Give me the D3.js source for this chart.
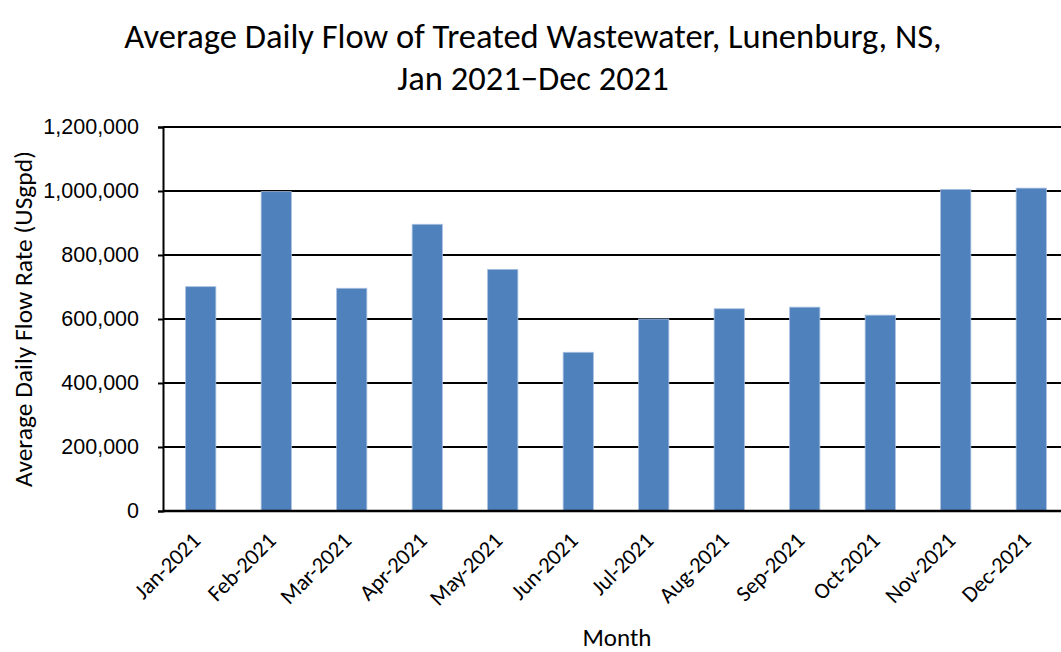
<!DOCTYPE html>
<html>
<head>
<meta charset="utf-8">
<script src="https://cdn.jsdelivr.net/npm/d3@7"></script>
<style>
  body { margin: 0; background: #fff; }
  svg { display: block; font-family: Carlito, Lato, "Open Sans", sans-serif; }
  .grid line { stroke: #000; stroke-width: 2; }
  .tick text { fill: #000; }
</style>
</head>
<body>
<svg id="vis"></svg>
<script>
const width = 1061;
const height = 652;

const months = ["Jan-2021", "Feb-2021", "Mar-2021", "Apr-2021", "May-2021", "Jun-2021",
  "Jul-2021", "Aug-2021", "Sep-2021", "Oct-2021", "Nov-2021", "Dec-2021"];
const flows = [701000, 998000, 696000, 896000, 755000, 496000,
  600000, 632000, 637000, 612000, 1005000, 1009000];
const yTicks = [0, 200000, 400000, 600000, 800000, 1000000, 1200000];
const titleLines = ["Average Daily Flow of Treated Wastewater, Lunenburg, NS,",
  "Jan 2021\u2212Dec 2021"];

const margin = {top: 127, left: 163, bottom: 141};
const plotW = 906; // runs past the right edge, as in the original
const plotH = height - margin.top - margin.bottom;

const svg = d3.select("#vis")
    .attr("width", width)
    .attr("height", height);

const x = d3.scaleBand()
    .domain(months)
    .range([margin.left, margin.left + plotW])
    .paddingInner(0.6)
    .paddingOuter(0.3);

const y = d3.scaleLinear()
    .domain([0, 1200000])
    .range([margin.top + plotH, margin.top]);

const fmt = d3.format(",");

// gridlines
svg.append("g")
    .attr("class", "grid")
    .selectAll("line")
    .data(yTicks)
    .enter()
    .append("line")
      .attr("x1", margin.left)
      .attr("x2", margin.left + plotW)
      .attr("y1", d => y(d))
      .attr("y2", d => y(d));

// bars
svg.append("g")
    .selectAll("rect")
    .data(months)
    .enter()
    .append("rect")
      .attr("x", d => x(d))
      .attr("y", (d, i) => y(flows[i]))
      .attr("width", x.bandwidth())
      .attr("height", (d, i) => y(0) - y(flows[i]))
      .style("fill", "#4f81bd")
      .style("stroke", "#a7bfde")
      .style("stroke-width", 0.8);

// y axis
const yAxis = svg.append("g")
    .attr("transform", `translate(${margin.left},0)`)
    .call(d3.axisLeft(y).tickValues(yTicks).tickFormat(fmt).tickSize(5).tickPadding(19));
yAxis.selectAll("text").style("font-size", "21.5px");
yAxis.selectAll("line").style("stroke", "#000").style("stroke-width", 2);
yAxis.select(".domain").style("stroke", "#000").style("stroke-width", 2);

// x axis line
svg.append("line")
    .attr("x1", margin.left)
    .attr("x2", margin.left + plotW)
    .attr("y1", y(0))
    .attr("y2", y(0))
    .style("stroke", "#000")
    .style("stroke-width", 2.5);

// month labels, rotated
svg.append("g")
    .selectAll("text")
    .data(months)
    .enter()
    .append("text")
      .text(d => d)
      .attr("text-anchor", "end")
      .attr("transform", d => `translate(${x(d) + x.bandwidth() / 2 + 1},${y(0) + 31}) rotate(-45)`)
      .style("font-size", "22.5px");

// titles
svg.selectAll(".title")
    .data(titleLines)
    .enter()
    .append("text")
      .attr("class", "title")
      .attr("text-anchor", "middle")
      .attr("x", 533)
      .attr("y", (d, i) => 48 + i * 42)
      .style("font-size", "34.5px")
      .text(d => d);

svg.append("text")
    .attr("text-anchor", "middle")
    .attr("transform", `translate(32,${margin.top + plotH / 2}) rotate(-90)`)
    .style("font-size", "25.5px")
    .text("Average Daily Flow Rate (USgpd)");

svg.append("text")
    .attr("text-anchor", "middle")
    .attr("x", 617)
    .attr("y", 646)
    .style("font-size", "25px")
    .text("Month");
</script>
</body>
</html>
